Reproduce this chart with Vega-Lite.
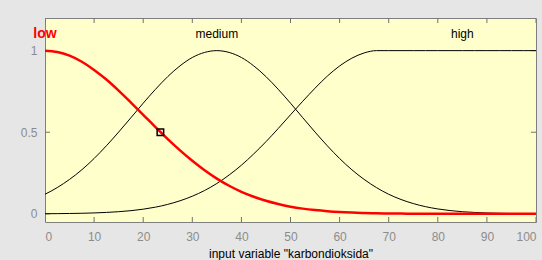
{
  "$schema": "https://vega.github.io/schema/vega-lite/v6.json",
  "width": 491,
  "height": 204,
  "autosize": {"type": "none"},
  "padding": {"left": 45, "top": 18, "right": 6, "bottom": 38},
  "background": "#e6e6e6",
  "config": {
    "view": {"fill": "#ffffcc", "stroke": "#7f7f7f", "strokeWidth": 1},
    "font": "Liberation Sans"
  },
  "datasets": {
    "mf": [
      {"x": 0, "low": 1, "medium": 0.12, "high": 0.0008},
      {"x": 2.5, "low": 0.992, "medium": 0.161, "high": 0.0013},
      {"x": 5, "low": 0.969, "medium": 0.211, "high": 0.0022},
      {"x": 7.5, "low": 0.932, "medium": 0.27, "high": 0.0035},
      {"x": 10, "low": 0.882, "medium": 0.339, "high": 0.0056},
      {"x": 12.5, "low": 0.823, "medium": 0.417, "high": 0.0086},
      {"x": 15, "low": 0.755, "medium": 0.501, "high": 0.0131},
      {"x": 17.5, "low": 0.682, "medium": 0.589, "high": 0.0195},
      {"x": 20, "low": 0.607, "medium": 0.678, "high": 0.0286},
      {"x": 22.5, "low": 0.531, "medium": 0.763, "high": 0.041},
      {"x": 25, "low": 0.458, "medium": 0.841, "high": 0.058},
      {"x": 27.5, "low": 0.389, "medium": 0.907, "high": 0.08},
      {"x": 30, "low": 0.325, "medium": 0.958, "high": 0.108},
      {"x": 32.5, "low": 0.267, "medium": 0.989, "high": 0.143},
      {"x": 35, "low": 0.216, "medium": 1, "high": 0.186},
      {"x": 37.5, "low": 0.172, "medium": 0.989, "high": 0.238},
      {"x": 40, "low": 0.135, "medium": 0.958, "high": 0.298},
      {"x": 42.5, "low": 0.105, "medium": 0.907, "high": 0.367},
      {"x": 45, "low": 0.08, "medium": 0.841, "high": 0.442},
      {"x": 47.5, "low": 0.06, "medium": 0.763, "high": 0.523},
      {"x": 50, "low": 0.044, "medium": 0.678, "high": 0.607},
      {"x": 52.5, "low": 0.032, "medium": 0.589, "high": 0.69},
      {"x": 55, "low": 0.023, "medium": 0.501, "high": 0.77},
      {"x": 57.5, "low": 0.016, "medium": 0.417, "high": 0.844},
      {"x": 60, "low": 0.011, "medium": 0.339, "high": 0.906},
      {"x": 62.5, "low": 0.0076, "medium": 0.27, "high": 0.954},
      {"x": 65, "low": 0.0051, "medium": 0.211, "high": 0.986},
      {"x": 67.5, "low": 0.0034, "medium": 0.161, "high": 1},
      {"x": 70, "low": 0.0022, "medium": 0.12, "high": 1},
      {"x": 72.5, "low": 0.0014, "medium": 0.088, "high": 1},
      {"x": 75, "low": 0.0009, "medium": 0.063, "high": 1},
      {"x": 77.5, "low": 0.0005, "medium": 0.044, "high": 1},
      {"x": 80, "low": 0.0003, "medium": 0.03, "high": 1},
      {"x": 82.5, "low": 0.0002, "medium": 0.02, "high": 1},
      {"x": 85, "low": 0.0001, "medium": 0.013, "high": 1},
      {"x": 87.5, "low": 0, "medium": 0.0085, "high": 1},
      {"x": 90, "low": 0, "medium": 0.0053, "high": 1},
      {"x": 92.5, "low": 0, "medium": 0.0033, "high": 1},
      {"x": 95, "low": 0, "medium": 0.002, "high": 1},
      {"x": 97.5, "low": 0, "medium": 0.0012, "high": 1},
      {"x": 100, "low": 0, "medium": 0.0007, "high": 1}
    ],
    "labels": [
      {"label": "low", "x": 0, "y": 1.105, "kind": "low"},
      {"label": "medium", "x": 35, "y": 1.105, "kind": "other"},
      {"label": "high", "x": 85, "y": 1.105, "kind": "other"}
    ],
    "marker": [{"x": 23.5, "y": 0.5}],
    "xticks": [{"v": 0}, {"v": 10}, {"v": 20}, {"v": 30}, {"v": 40}, {"v": 50}, {"v": 60}, {"v": 70}, {"v": 80}, {"v": 90}, {"v": 100}],
    "yticks": [{"v": 0}, {"v": 0.5}, {"v": 1}]
  },
  "layer": [
    {
      "data": {"name": "mf"},
      "mark": {"type": "line", "color": "black", "strokeWidth": 1, "interpolate": "monotone", "clip": true},
      "encoding": {
        "x": {"field": "x", "type": "quantitative", "scale": {"domain": [0, 100], "nice": false},
          "axis": {"orient": "bottom", "values": [0,10,20,30,40,50,60,70,80,90,100], "ticks": false, "grid": false, "domain": false, "labelPadding": 9, "labelFont": "Liberation Sans", "labelFontSize": 12, "labelColor": "#8c8c8c", "title": "input variable \"karbondioksida\"", "titleFont": "Liberation Sans", "titleColor": "black", "titleFontWeight": "normal", "titleFontSize": 12, "titlePadding": 6}},
        "y": {"field": "medium", "type": "quantitative", "scale": {"domain": [-0.05, 1.2], "nice": false, "zero": false},
          "axis": {"orient": "left", "values": [0, 0.5, 1], "format": "~g", "ticks": false, "grid": false, "domain": false, "labelPadding": 8, "labelFont": "Liberation Sans", "labelFontSize": 12, "labelColor": "#8c8c8c", "title": null}}
      }
    },
    {
      "data": {"name": "xticks"},
      "mark": {"type": "tick", "orient": "vertical", "color": "#707070", "size": 10, "thickness": 1, "opacity": 1, "clip": true},
      "encoding": {
        "x": {"field": "v", "type": "quantitative"},
        "y": {"datum": -0.05, "type": "quantitative"}
      }
    },
    {
      "data": {"name": "xticks"},
      "mark": {"type": "tick", "orient": "vertical", "color": "#707070", "size": 10, "thickness": 1, "opacity": 1, "clip": true},
      "encoding": {
        "x": {"field": "v", "type": "quantitative"},
        "y": {"datum": 1.2, "type": "quantitative"}
      }
    },
    {
      "data": {"name": "yticks"},
      "mark": {"type": "tick", "orient": "horizontal", "color": "#707070", "size": 10, "thickness": 1, "opacity": 1, "clip": true},
      "encoding": {
        "y": {"field": "v", "type": "quantitative"},
        "x": {"datum": 0, "type": "quantitative"}
      }
    },
    {
      "data": {"name": "yticks"},
      "mark": {"type": "tick", "orient": "horizontal", "color": "#707070", "size": 10, "thickness": 1, "opacity": 1, "clip": true},
      "encoding": {
        "y": {"field": "v", "type": "quantitative"},
        "x": {"datum": 100, "type": "quantitative"}
      }
    },
    {
      "data": {"name": "mf"},
      "mark": {"type": "line", "color": "black", "strokeWidth": 1, "interpolate": "monotone", "clip": true},
      "encoding": {
        "x": {"field": "x", "type": "quantitative"},
        "y": {"field": "high", "type": "quantitative"}
      }
    },
    {
      "data": {"name": "mf"},
      "mark": {"type": "line", "color": "#ff0000", "strokeWidth": 2.5, "interpolate": "monotone", "clip": true},
      "encoding": {
        "x": {"field": "x", "type": "quantitative"},
        "y": {"field": "low", "type": "quantitative"}
      }
    },
    {
      "data": {"name": "marker"},
      "mark": {"type": "point", "shape": "square", "filled": false, "color": "black", "size": 42, "strokeWidth": 1.5, "opacity": 1},
      "encoding": {
        "x": {"field": "x", "type": "quantitative"},
        "y": {"field": "y", "type": "quantitative"}
      }
    },
    {
      "data": {"name": "labels"},
      "transform": [{"filter": "datum.kind == 'other'"}],
      "mark": {"type": "text", "font": "Liberation Sans", "align": "center", "baseline": "middle", "fontSize": 12, "color": "black"},
      "encoding": {
        "x": {"field": "x", "type": "quantitative"},
        "y": {"field": "y", "type": "quantitative"},
        "text": {"field": "label"}
      }
    },
    {
      "data": {"name": "labels"},
      "transform": [{"filter": "datum.kind == 'low'"}],
      "mark": {"type": "text", "font": "Liberation Sans", "align": "center", "baseline": "middle", "fontSize": 14, "fontWeight": "bold", "color": "#ff0000"},
      "encoding": {
        "x": {"field": "x", "type": "quantitative"},
        "y": {"field": "y", "type": "quantitative"},
        "text": {"field": "label"}
      }
    }
  ]
}
